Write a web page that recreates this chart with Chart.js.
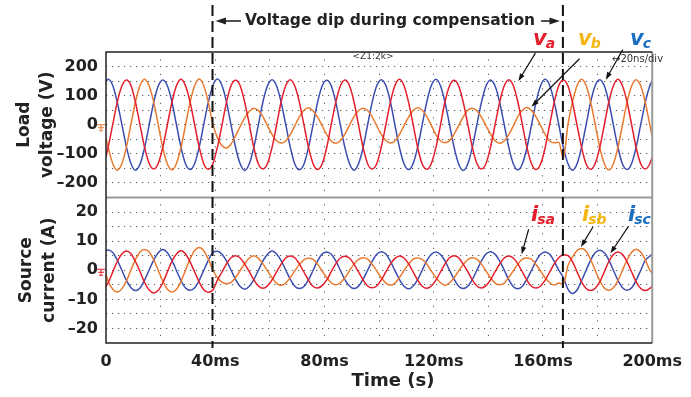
<!DOCTYPE html>
<html>
<head>
<meta charset="utf-8">
<script src="https://cdn.jsdelivr.net/npm/chart.js@4.4.1/dist/chart.umd.min.js"></script>
<style>
  html, body { margin: 0; padding: 0; background: #fff; }
  #wrap { width: 691px; height: 397px; position: relative; }
</style>
</head>
<body>
<div id="wrap"><canvas id="scope"></canvas></div>
<script>
// time base (ms) shared by all six traces
const timeMs = [
  0,
  0.8, 2.47, 4.13, 5.8, 7.47, 9.13, 10.8, 12.47, 14.13, 15.8, 17.47, 19.13,
  20.8, 22.47, 24.13, 25.8, 27.47, 29.13, 30.8, 32.47, 34.13, 35.8, 37.47, 39.13,
  40.8, 42.47, 44.13, 45.8, 47.47, 49.13, 50.8, 52.47, 54.13, 55.8, 57.47, 59.13,
  60.8, 62.47, 64.13, 65.8, 67.47, 69.13, 70.8, 72.47, 74.13, 75.8, 77.47, 79.13,
  80.8, 82.47, 84.13, 85.8, 87.47, 89.13, 90.8, 92.47, 94.13, 95.8, 97.47, 99.13,
  100.8, 102.47, 104.13, 105.8, 107.47, 109.13, 110.8, 112.47, 114.13, 115.8, 117.47, 119.13,
  120.8, 122.47, 124.13, 125.8, 127.47, 129.13, 130.8, 132.47, 134.13, 135.8, 137.47, 139.13,
  140.8, 142.47, 144.13, 145.8, 147.47, 149.13, 150.8, 152.47, 154.13, 155.8, 157.47, 159.13,
  160.8, 162.47, 164.13, 165.8, 167.47, 169.13, 170.8, 172.47, 174.13, 175.8, 177.47, 179.13,
  180.8, 182.47, 184.13, 185.8, 187.47, 189.13, 190.8, 192.47, 194.13, 195.8, 197.47, 199.13,
  200
];

// load voltages (V)
const loadVa = [
  -110,
  -77, 1, 78, 133, 154, 135, 77, -1, -78, -133, -152, -133,
  -78, 0, 77, 134, 156, 133, 78, 0, -77, -134, -153, -134,
  -77, -1, 78, 135, 153, 134, 77, 1, -79, -135, -152, -133,
  -78, 0, 79, 134, 155, 133, 78, 0, -77, -133, -154, -135,
  -79, 1, 77, 133, 154, 135, 79, -1, -78, -134, -152, -134,
  -77, 0, 78, 135, 156, 134, 77, 0, -79, -135, -153, -133,
  -78, -1, 79, 134, 153, 133, 78, 1, -77, -133, -152, -134,
  -77, 0, 77, 133, 155, 135, 79, 0, -78, -134, -154, -135,
  -79, 1, 78, 135, 154, 134, 77, -1, -77, -135, -153, -133,
  -78, 0, 79, 134, 156, 133, 78, 0, -79, -134, -152, -134,
  -112
];
const loadVb = [
  -48,
  -78, -134, -156, -134, -77, 1, 79, 135, 156, 133, 78, 0,
  -79, -135, -155, -133, -78, -1, 78, 134, 157, 134, 77, 2,
  -45, -72, -80, -66, -38, -6, 24, 46, 57, 49, 27, -3,
  -33, -55, -63, -56, -34, -4, 27, 50, 58, 48, 26, -3,
  -34, -56, -64, -55, -32, -2, 28, 49, 57, 49, 27, -4,
  -33, -54, -63, -56, -33, -3, 26, 49, 58, 50, 28, -2,
  -34, -55, -62, -55, -32, -3, 27, 50, 57, 48, 26, -3,
  -32, -55, -64, -56, -34, -4, 28, 50, 59, 49, 27, -3,
  -33, -56, -62, -60, -115, 0, 78, 134, 156, 135, 78, 1,
  -78, -134, -155, -134, -77, 0, 78, 133, 155, 134, 77, -1,
  -40
];
const loadVc = [
  150,
  156, 135, 77, 2, -76, -133, -156, -135, -79, -1, 77, 133,
  154, 134, 79, 0, -78, -135, -154, -133, -77, 1, 78, 135,
  157, 135, 78, -1, -79, -134, -157, -134, -78, 0, 79, 134,
  155, 133, 77, 1, -77, -135, -155, -136, -78, -1, 77, 133,
  153, 134, 78, 0, -78, -133, -156, -134, -79, 0, 78, 134,
  155, 135, 79, -1, -79, -134, -154, -133, -77, 1, 79, 135,
  156, 134, 77, 0, -78, -135, -157, -135, -78, 0, 77, 133,
  154, 133, 78, 1, -77, -134, -155, -134, -79, -1, 78, 134,
  156, 135, 78, 0, -78, -133, -156, -135, -78, 0, 79, 135,
  155, 134, 77, -1, -79, -135, -154, -133, -77, 1, 78, 134,
  152
];

// source currents (A)
const srcIa = [
  -5.6,
  -4.2, -0.6, 3.0, 5.6, 6.6, 5.7, 3.0, -0.5, -4.2, -6.8, -7.8, -6.9,
  -4.3, -0.6, 3.1, 5.6, 6.7, 5.6, 2.9, -0.6, -4.1, -6.7, -7.6, -6.8,
  -3.4, -0.6, 2.2, 4.3, 5.0, 4.2, 2.1, -0.5, -3.3, -5.4, -6.2, -5.4,
  -3.3, -0.6, 2.1, 4.2, 4.9, 4.3, 2.2, -0.6, -3.4, -5.5, -6.1, -5.3,
  -3.4, -0.5, 2.2, 4.2, 4.8, 4.2, 2.1, -0.6, -3.3, -5.4, -6.0, -5.4,
  -3.3, -0.6, 2.1, 4.1, 4.9, 4.2, 2.2, -0.6, -3.4, -5.5, -6.2, -5.4,
  -3.4, -0.6, 2.2, 4.3, 5.0, 4.3, 2.1, -0.5, -3.3, -5.4, -6.1, -5.3,
  -3.3, -0.5, 2.1, 4.2, 4.9, 4.2, 2.2, -0.6, -3.4, -5.5, -6.1, -5.4,
  -3.4, -0.6, 2.2, 4.3, 5.3, 5.0, 3.0, -0.5, -4.0, -6.3, -7.0, -6.2,
  -4.0, -0.5, 3.0, 5.4, 6.3, 5.4, 2.9, -0.6, -4.0, -6.3, -7.0, -6.2,
  -5.6
];
const srcIb = [
  -1.5,
  -3.8, -6.5, -7.5, -6.4, -3.7, 0.1, 3.7, 6.3, 7.1, 6.3, 3.6, 0,
  -3.7, -6.5, -7.5, -6.5, -3.8, 0, 3.9, 6.8, 7.8, 6.7, 3.8, 0.1,
  -2.6, -4.1, -4.6, -4.2, -2.5, -0.1, 2.3, 4.2, 5.0, 4.1, 2.2, -0.2,
  -2.6, -4.5, -5.2, -4.4, -2.5, -0.2, 2.0, 3.6, 4.1, 3.7, 2.1, -0.3,
  -2.5, -4.3, -5.0, -4.3, -2.6, -0.2, 2.1, 3.7, 4.3, 3.8, 2.0, -0.2,
  -2.6, -4.4, -5.1, -4.4, -2.5, -0.1, 2.1, 3.8, 4.2, 3.7, 2.1, -0.3,
  -2.5, -4.3, -5.2, -4.3, -2.6, -0.2, 2.0, 3.7, 4.3, 3.8, 2.1, -0.2,
  -2.6, -4.4, -5.0, -4.4, -2.5, -0.2, 2.1, 3.8, 4.2, 3.7, 2.0, -0.3,
  -2.6, -4.3, -5.1, -4.4, -4.8, 1.5, 4.5, 6.8, 7.5, 6.5, 3.6, 0,
  -3.6, -6.1, -6.9, -6.0, -3.5, 0, 3.6, 6.2, 7.2, 6.2, 3.6, 0,
  -1.0
];
const srcIc = [
  6.8,
  7.0, 6.1, 3.5, 0, -3.5, -6.0, -7.0, -6.1, -3.4, 0.1, 3.5, 6.0,
  7.1, 6.0, 3.4, -0.1, -3.6, -6.1, -6.9, -6.0, -3.5, 0, 3.4, 6.1,
  6.5, 5.5, 3.2, 0, -3.2, -5.6, -6.5, -5.5, -3.2, 0, 3.2, 5.5,
  6.6, 5.6, 3.3, 0.1, -3.1, -5.5, -6.3, -5.6, -3.3, -0.1, 3.2, 5.6,
  6.3, 5.5, 3.2, 0, -3.2, -5.4, -6.3, -5.5, -3.1, 0, 3.1, 5.5,
  6.4, 5.6, 3.1, -0.1, -3.2, -5.5, -6.4, -5.4, -3.2, 0.1, 3.3, 5.5,
  6.3, 5.4, 3.2, 0, -3.1, -5.5, -6.3, -5.5, -3.2, 0, 3.2, 5.6,
  6.4, 5.5, 3.2, 0.1, -3.2, -5.6, -6.4, -5.5, -3.1, 0, 3.2, 5.5,
  6.3, 5.5, 3.1, 0, -2.5, -6.5, -8.0, -6.8, -3.6, 0, 3.5, 6.0,
  6.9, 6.0, 3.5, 0, -3.5, -6.0, -6.9, -6.0, -3.4, 0, 3.4, 4.8,
  5.5
];

// tick labels and event markers
const timeTicks = [0, 40, 80, 120, 160, 200];
const voltTicks = [200, 100, 0, -100, -200];
const currTicks = [20, 10, 0, -10, -20];
const dipStart = 39;
const dipEnd = 167.3;

const RED = '#e41e2b', ORANGE = '#e97a2f', BLUE = '#3c4db0';
const FONT = '"DejaVu Sans", sans-serif';
const INK = '#222';
const GRID = '#5a5a5a';

const pts = arr => timeMs.map((t, i) => ({ x: t, y: arr[i] }));
const fmt = v => (v < 0 ? '\u2013' + (-v) : String(v));

function arrow(ctx, x1, y1, x2, y2, head, width) {
  const ang = Math.atan2(y2 - y1, x2 - x1);
  ctx.lineWidth = width;
  ctx.beginPath();
  ctx.moveTo(x1, y1);
  ctx.lineTo(x2 - Math.cos(ang) * head * 0.7, y2 - Math.sin(ang) * head * 0.7);
  ctx.stroke();
  ctx.beginPath();
  ctx.moveTo(x2, y2);
  ctx.lineTo(x2 - head * Math.cos(ang - 0.33), y2 - head * Math.sin(ang - 0.33));
  ctx.lineTo(x2 - head * Math.cos(ang + 0.33), y2 - head * Math.sin(ang + 0.33));
  ctx.closePath();
  ctx.fill();
}

function subLabel(ctx, main, sub, x, y, color) {
  ctx.fillStyle = color;
  ctx.textAlign = 'left';
  ctx.textBaseline = 'alphabetic';
  ctx.font = 'italic bold 21px ' + FONT;
  ctx.fillText(main, x, y);
  const w = ctx.measureText(main).width;
  ctx.font = 'italic bold 14px ' + FONT;
  ctx.fillText(sub, x + w - 1, y + 3);
}

function ground(ctx, x, y, color) {
  ctx.strokeStyle = color;
  ctx.lineWidth = 1;
  ctx.beginPath();
  ctx.moveTo(x - 4, y); ctx.lineTo(x + 4, y);
  ctx.moveTo(x, y); ctx.lineTo(x, y + 6);
  ctx.moveTo(x - 3, y + 3); ctx.lineTo(x + 3, y + 3);
  ctx.moveTo(x - 2, y + 6); ctx.lineTo(x + 2, y + 6);
  ctx.stroke();
}

const overlay = {
  id: 'overlay',
  afterDraw(chart) {
    const { ctx, chartArea: a, scales: { x, yV, yI } } = chart;
    ctx.save();

    // scope frame
    ctx.strokeStyle = '#9a9a9a';
    ctx.lineWidth = 2;
    ctx.beginPath();
    ctx.moveTo(a.right, a.top); ctx.lineTo(a.right, a.bottom);
    ctx.moveTo(a.left, yV.bottom); ctx.lineTo(a.right, yV.bottom);
    ctx.stroke();
    ctx.strokeStyle = '#222';
    ctx.lineWidth = 1.5;
    ctx.beginPath();
    ctx.moveTo(a.right, a.top); ctx.lineTo(a.left, a.top);
    ctx.lineTo(a.left, a.bottom); ctx.lineTo(a.right, a.bottom);
    ctx.stroke();

    // dip start / end markers
    const xa = x.getPixelForValue(dipStart);
    const xb = x.getPixelForValue(dipEnd);
    ctx.strokeStyle = '#111';
    ctx.lineWidth = 2;
    ctx.setLineDash([11, 5]);
    ctx.beginPath();
    ctx.moveTo(xa, 5); ctx.lineTo(xa, a.bottom + 5);
    ctx.moveTo(xb, 5); ctx.lineTo(xb, a.bottom + 5);
    ctx.stroke();
    ctx.setLineDash([]);

    // header with arrows
    ctx.fillStyle = INK;
    ctx.strokeStyle = INK;
    ctx.font = 'bold 15.5px ' + FONT;
    ctx.textAlign = 'center';
    ctx.textBaseline = 'middle';
    const head = 'Voltage dip during compensation';
    const hw = ctx.measureText(head).width;
    const hx = 390, hy = 21;
    ctx.fillText(head, hx, hy);
    arrow(ctx, hx - hw / 2 - 4, hy, xa + 3, hy, 11, 1.6);
    arrow(ctx, hx + hw / 2 + 6, hy, xb - 3, hy, 11, 1.6);

    // scope annotations
    ctx.fillStyle = '#333';
    ctx.font = '9px ' + FONT;
    ctx.textAlign = 'center';
    ctx.fillText('<Z1:2k>', 373, 57);
    ctx.textAlign = 'left';
    ctx.font = '10px ' + FONT;
    ctx.fillText('\u219420ns/div', 612, 59);

    ground(ctx, 101, yV.getPixelForValue(0), ORANGE);
    ground(ctx, 101, yI.getPixelForValue(0) - 1, RED);

    // trace labels and pointers
    subLabel(ctx, 'v', 'a', 533, 45, RED);
    subLabel(ctx, 'v', 'b', 578, 45, '#f5b50f');
    subLabel(ctx, 'v', 'c', 630, 45, '#1b6ec2');
    subLabel(ctx, 'i', 'sa', 531, 221, RED);
    subLabel(ctx, 'i', 'sb', 582, 221, '#f5b50f');
    subLabel(ctx, 'i', 'sc', 628, 221, '#1b6ec2');

    ctx.fillStyle = '#111';
    ctx.strokeStyle = '#111';
    const pointers = [
      [yV, 151, 150, 17, -28], [yV, 155.8, 62, 48, -48], [yV, 183, 155, 17, -30],
      [yI, 152.2, 5.5, 7, -25], [yI, 173.9, 8, 12, -20], [yI, 184.7, 5.8, 18, -27]
    ];
    pointers.forEach(([ys, t, v, dx, dy]) => {
      const px = x.getPixelForValue(t), py = ys.getPixelForValue(v);
      arrow(ctx, px + dx, py + dy, px, py, 8, 1.2);
    });

    // time axis title
    ctx.fillStyle = INK;
    ctx.font = 'bold 18px ' + FONT;
    ctx.textAlign = 'center';
    ctx.textBaseline = 'middle';
    ctx.fillText('Time (s)', 393, 381);

    ctx.restore();
  }
};

const tickFont = { family: FONT, size: 16, weight: 'bold' };
const titleFont = { family: FONT, size: 17, weight: 'bold', lineHeight: 1.3 };

new Chart(document.getElementById('scope'), {
  type: 'line',
  data: {
    datasets: [
      { label: 'va', data: pts(loadVa), yAxisID: 'yV', borderColor: RED },
      { label: 'vb', data: pts(loadVb), yAxisID: 'yV', borderColor: ORANGE },
      { label: 'vc', data: pts(loadVc), yAxisID: 'yV', borderColor: BLUE },
      { label: 'isa', data: pts(srcIa), yAxisID: 'yI', borderColor: RED },
      { label: 'isb', data: pts(srcIb), yAxisID: 'yI', borderColor: ORANGE },
      { label: 'isc', data: pts(srcIc), yAxisID: 'yI', borderColor: BLUE }
    ]
  },
  options: {
    responsive: true,
    maintainAspectRatio: false,
    animation: false,
    layout: { padding: { left: 0, right: 32, top: 52, bottom: 0 } },
    elements: {
      point: { radius: 0 },
      line: { borderWidth: 1.5, cubicInterpolationMode: 'monotone', borderJoinStyle: 'round' }
    },
    plugins: { legend: { display: false }, tooltip: { enabled: false } },
    scales: {
      x: {
        type: 'linear', min: 0, max: 200,
        afterFit: s => { s.height = 54; },
        border: { display: false, dash: [1.2, 13.3], dashOffset: 7.25 },
        grid: { drawTicks: false, color: c => (c.tick.value % 200 === 0 ? 'transparent' : GRID) },
        ticks: {
          stepSize: 20, autoSkip: false, maxRotation: 0, padding: 9, color: INK, font: tickFont,
          callback: v => (timeTicks.includes(v) ? (v === 0 ? '0' : v + 'ms') : '')
        }
      },
      // bottom panel is listed first so the stack puts it under the voltage panel
      yI: {
        type: 'linear', position: 'left', stack: 'scope', stackWeight: 1, min: -25, max: 25,
        afterFit: s => { s.width = 106; },
        border: { display: false, dash: [1.2, 4.8] },
        grid: { drawTicks: false, color: c => (Math.abs(c.tick.value) === 25 ? 'transparent' : GRID) },
        ticks: { stepSize: 5, autoSkip: false, padding: 8, color: INK, font: tickFont,
          callback: v => (currTicks.includes(v) ? fmt(v) : '') },
        title: { display: true, text: ['Source', 'current (A)'], color: INK, font: titleFont, padding: { top: 16, bottom: 0 } }
      },
      yV: {
        type: 'linear', position: 'left', stack: 'scope', stackWeight: 1, min: -250, max: 250,
        afterFit: s => { s.width = 106; },
        border: { display: false, dash: [1.2, 4.8] },
        grid: { drawTicks: false, color: c => (Math.abs(c.tick.value) === 250 ? 'transparent' : GRID) },
        ticks: { stepSize: 50, autoSkip: false, padding: 8, color: INK, font: tickFont,
          callback: v => (voltTicks.includes(v) ? fmt(v) : '') },
        title: { display: true, text: ['Load', 'voltage (V)'], color: INK, font: titleFont, padding: { top: 14, bottom: 0 } }
      }
    }
  },
  plugins: [overlay]
});
</script>
</body>
</html>
